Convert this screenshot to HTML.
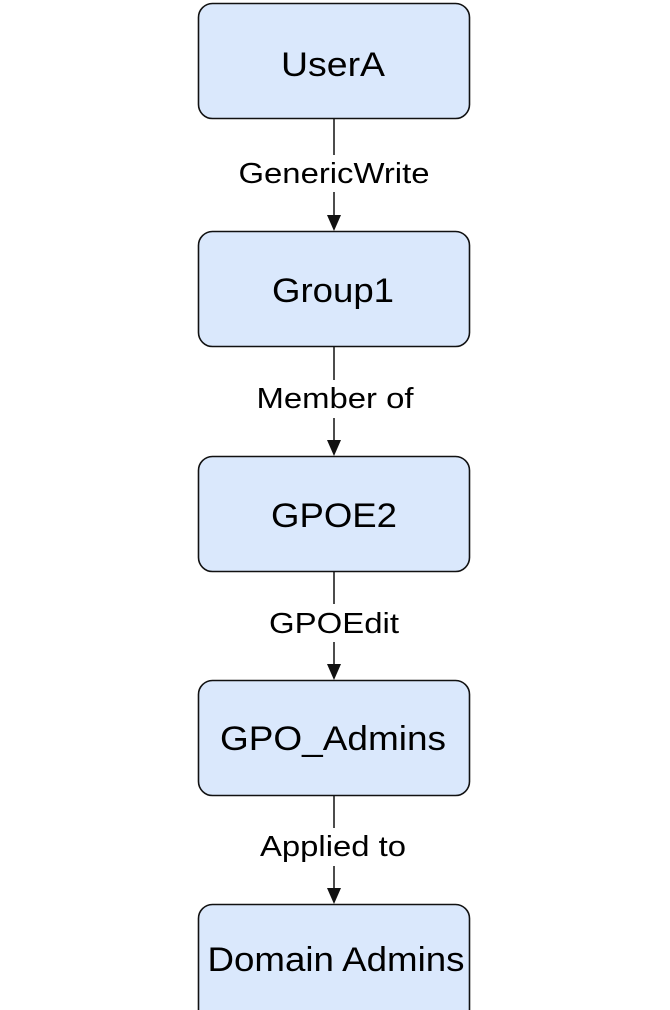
<!DOCTYPE html>
<html><head><meta charset="utf-8"><style>html,body{margin:0;padding:0;background:#fff}svg{display:block}</style></head>
<body>
<svg width="670" height="1010" viewBox="0 0 670 1010" xmlns="http://www.w3.org/2000/svg" font-family="Liberation Sans, Arial, sans-serif">
<g fill="#dae8fc" stroke="#111" stroke-width="1.6">
<rect x="198.5" y="3.5" width="271" height="115" rx="14"/>
<rect x="198.5" y="231.5" width="271" height="115" rx="14"/>
<rect x="198.5" y="456.5" width="271" height="115" rx="14"/>
<rect x="198.5" y="680.5" width="271" height="115" rx="14"/>
<rect x="198.5" y="904.5" width="271" height="120" rx="14"/>
</g>
<g stroke="#111" stroke-width="1.5">
<line x1="334" y1="119" x2="334" y2="155"/><line x1="334" y1="192" x2="334" y2="217"/>
<line x1="334" y1="347" x2="334" y2="380"/><line x1="334" y1="418" x2="334" y2="442"/>
<line x1="334" y1="572" x2="334" y2="604"/><line x1="334" y1="642" x2="334" y2="666"/>
<line x1="334" y1="796" x2="334" y2="828"/><line x1="334" y1="866" x2="334" y2="890"/>
</g>
<g fill="#111">
<polygon points="327,215 341,215 334,231"/>
<polygon points="327,440 341,440 334,456"/>
<polygon points="327,664 341,664 334,680"/>
<polygon points="327,888 341,888 334,904"/>
</g>
<g fill="#000" text-anchor="middle">
<text x="333" y="76" font-size="34" textLength="104" lengthAdjust="spacingAndGlyphs">UserA</text>
<text x="333" y="302" font-size="34" textLength="122" lengthAdjust="spacingAndGlyphs">Group1</text>
<text x="334" y="527" font-size="34" textLength="126" lengthAdjust="spacingAndGlyphs">GPOE2</text>
<text x="333" y="750" font-size="34" textLength="226" lengthAdjust="spacingAndGlyphs">GPO_Admins</text>
<text x="336" y="971" font-size="34" textLength="257" lengthAdjust="spacingAndGlyphs">Domain Admins</text>
<text x="334" y="183" font-size="29" textLength="191" lengthAdjust="spacingAndGlyphs">GenericWrite</text>
<text x="335" y="408" font-size="29" textLength="157" lengthAdjust="spacingAndGlyphs">Member of</text>
<text x="334" y="633" font-size="29" textLength="130" lengthAdjust="spacingAndGlyphs">GPOEdit</text>
<text x="333" y="856" font-size="29" textLength="146" lengthAdjust="spacingAndGlyphs">Applied to</text>
</g>
</svg>
</body></html>
